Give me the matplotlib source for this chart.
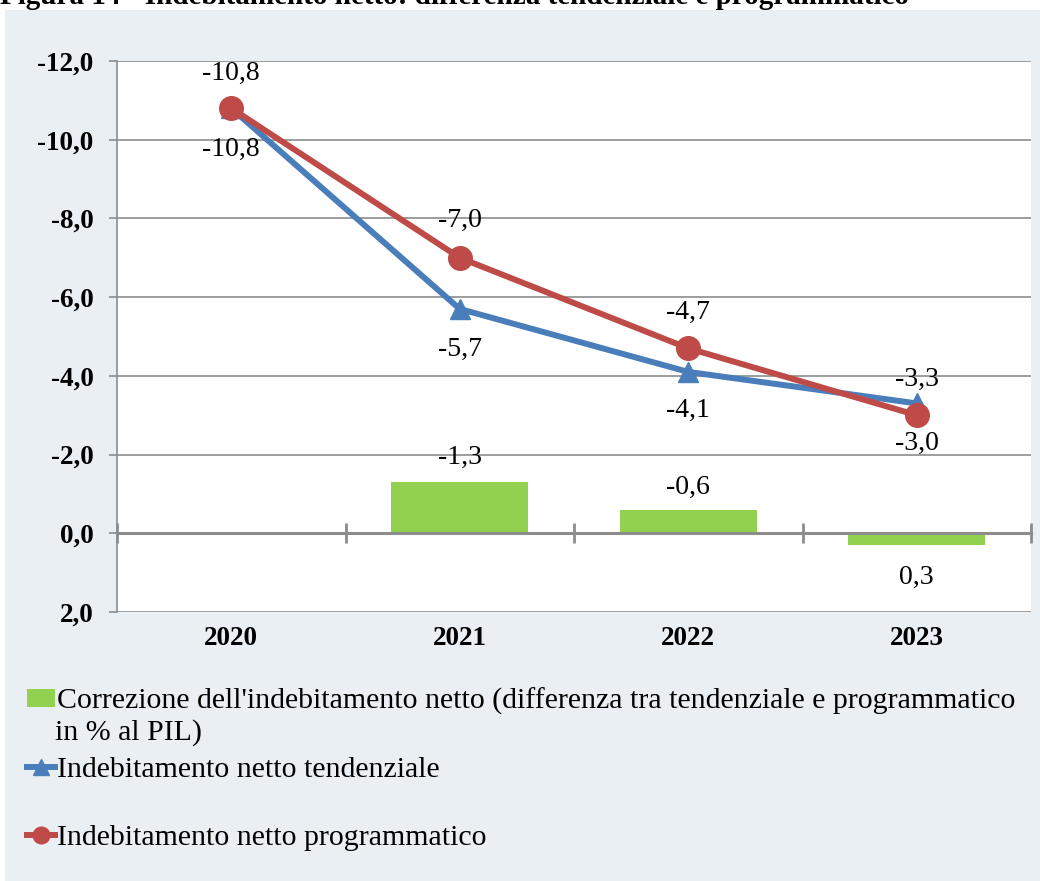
import matplotlib.pyplot as plt
from matplotlib.lines import Line2D
from matplotlib.patches import Patch, Rectangle
from matplotlib.ticker import FixedLocator, FuncFormatter

plt.rcParams['font.family'] = ['Liberation Serif', 'DejaVu Serif']

years = ['2020', '2021', '2022', '2023']
correzione = [0.0, -1.3, -0.6, 0.3]
tendenziale = [-10.8, -5.7, -4.1, -3.3]
programmatico = [-10.8, -7.0, -4.7, -3.0]

title = "Figura 14 - Indebitamento netto: differenza tendenziale e programmatico"
lab_corr = "Correzione dell'indebitamento netto (differenza tra tendenziale e programmatico"
lab_corr2 = "in % al PIL)"
lab_tend = "Indebitamento netto tendenziale"
lab_prog = "Indebitamento netto programmatico"

BLUE = '#4A7EBB'
RED = '#BE4B48'
GREEN = '#92D050'
GRID = '#8C8C8C'
PANEL = '#E9EFF2'


def fmt(v):
    return f"{v:.1f}".replace('.', ',')


fig = plt.figure(figsize=(10.4, 8.81), dpi=100)
fig.patches.append(Rectangle((5 / 1040, 0), 1, 1 - 10 / 881, transform=fig.transFigure,
                             facecolor=PANEL, edgecolor='none', zorder=-10))
fig.text(0.0, 1 - 4 / 881, title, fontsize=21, fontweight='bold', va='baseline', ha='left')

ax = fig.add_axes([117 / 1040, 1 - 612 / 881, 914 / 1040, 551 / 881])
ax.set_facecolor('white')
x = list(range(len(years)))

ax.bar(x[1:], correzione[1:], width=0.6, color=GREEN, zorder=2)
ax.plot(x, tendenziale, color=BLUE, lw=4.3, marker='^', ms=14, zorder=4)
ax.plot(x, programmatico, color=RED, lw=4.3, marker='o', ms=17, zorder=5)

ax.set_xlim(-0.5, 3.5)
ax.set_ylim(2, -12)
ax.yaxis.set_major_locator(FixedLocator(range(-12, 3, 2)))
ax.yaxis.set_major_formatter(FuncFormatter(lambda v, p: fmt(v)))
ax.yaxis.grid(True, color=GRID, lw=1.2, zorder=1)
ax.set_axisbelow(True)
ax.tick_params(axis='y', length=6, width=1.2, color=GRID, pad=11, labelsize=19.5)
for t in ax.get_yticklabels():
    t.set_fontweight('bold')

# category axis drawn at zero, labels at the bottom
for s in ['top', 'right']:
    ax.spines[s].set_visible(False)
ax.spines['left'].set_color(GRID)
ax.spines['left'].set_linewidth(1.2)
ax.spines['bottom'].set_position(('data', 0))
ax.spines['bottom'].set_color(GRID)
ax.spines['bottom'].set_linewidth(2.2)
ax.spines['bottom'].set_zorder(3)
ax.xaxis.set_major_locator(FixedLocator([i - 0.5 for i in range(len(years) + 1)]))
ax.tick_params(axis='x', direction='inout', length=14, width=2, color=GRID, labelbottom=False)

sec = ax.secondary_xaxis(0.0)
sec.set_xticks(x)
sec.set_xticklabels(years, fontsize=19.5, fontweight='bold')
sec.tick_params(length=0, pad=10)
sec.spines['bottom'].set_visible(False)

# data labels
tend_off = [-30, -29, -28, 17]
prog_off = [25, 27, 26, -20]
corr_off = [0, 18, 16, -23]
for i in x:
    ax.annotate(fmt(tendenziale[i]), (i, tendenziale[i]), xytext=(0, tend_off[i]),
                textcoords='offset points', ha='center', va='center', fontsize=20, zorder=6)
    ax.annotate(fmt(programmatico[i]), (i, programmatico[i]), xytext=(0, prog_off[i]),
                textcoords='offset points', ha='center', va='center', fontsize=20, zorder=6)
    if i > 0:
        ax.annotate(fmt(correzione[i]), (i, correzione[i]), xytext=(0, corr_off[i]),
                    textcoords='offset points', ha='center', va='center', fontsize=20)

# legend
leg_kw = dict(frameon=False, fontsize=21.5, handlelength=0.95, handletextpad=0.05,
              borderpad=0, borderaxespad=0, loc='center left')
fig.legend([Patch(facecolor=GREEN)], [lab_corr], bbox_to_anchor=(27 / 1040, 1 - 701 / 881),
           handleheight=0.55, **leg_kw)
fig.text(55 / 1040, 1 - 733 / 881, lab_corr2, fontsize=21.5, va='center', ha='left')
fig.legend([Line2D([], [], color=BLUE, lw=4.3, marker='^', ms=12)], [lab_tend],
           bbox_to_anchor=(27 / 1040, 1 - 770 / 881), **leg_kw)
fig.legend([Line2D([], [], color=RED, lw=4.3, marker='o', ms=12)], [lab_prog],
           bbox_to_anchor=(27 / 1040, 1 - 838 / 881), **leg_kw)

fig.savefig('out.png', dpi=100)
